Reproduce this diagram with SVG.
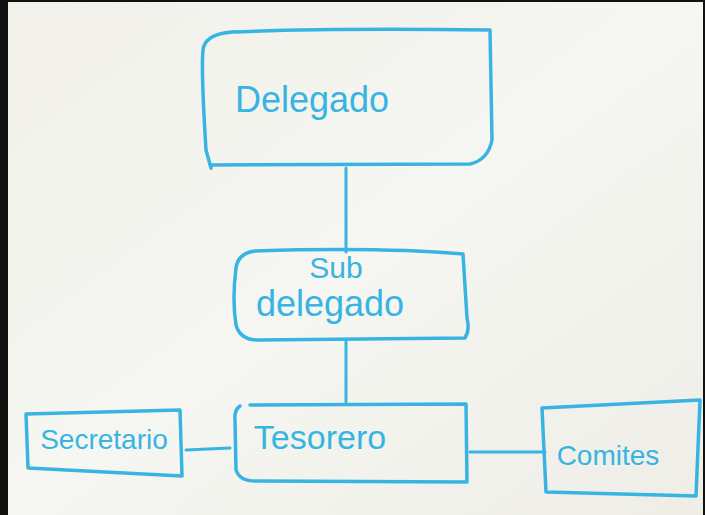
<svg xmlns="http://www.w3.org/2000/svg" width="705" height="515" viewBox="0 0 705 515">
<defs>
<style>
.box{fill:none;stroke:#38b4e2;stroke-width:3.5;stroke-linecap:round;stroke-linejoin:round}
.ln{fill:none;stroke:#38b4e2;stroke-width:3;stroke-linecap:round}
.t{font-family:"Liberation Sans","DejaVu Sans",sans-serif;fill:#38b4e2;text-anchor:middle}
</style>
<linearGradient id="paper" x1="0" y1="0" x2="1" y2="1">
<stop offset="0" stop-color="#f1f0ea"/>
<stop offset="0.5" stop-color="#f6f6f2"/>
<stop offset="1" stop-color="#eeede6"/>
</linearGradient>
</defs>
<rect x="0" y="0" width="705" height="515" fill="#111"/>
<rect x="8" y="2" width="695" height="513" fill="url(#paper)"/>
<g id="connectors">
<path class="ln" d="M346 168 L346 252"/>
<path class="ln" d="M346 340 L346 402"/>
<path class="ln" d="M186 450 L230 448"/>
<path class="ln" d="M470 452 L545 452"/>
</g>
<g id="delegado">
<path class="box" d="M211 168 L206 150 Q201 70 203 50 Q205 34 232 32 Q330 28 490 30 L492 140 Q488 160 470 164 L210 165"/>
<text class="t" x="312" y="112" font-size="36">Delegado</text>
</g>
<g id="subdelegado">
<path class="box" d="M255 251 Q238 253 236 268 Q232 300 236 325 Q240 340 258 340 L465 338 Q470 330 467 318 L463 254 Q380 247 255 251"/>
<text class="t" x="336" y="278" font-size="30">Sub</text>
<text class="t" x="330" y="316" font-size="36">delegado</text>
</g>
<g id="tesorero">
<path class="box" d="M240 406 Q234 410 235 420 L236 470 Q240 482 258 481 L467 482 L466 404 L250 405"/>
<text class="t" x="320" y="449" font-size="34">Tesorero</text>
</g>
<g id="secretario">
<path class="box" d="M26 414 L180 410 L182 476 L28 468 Z"/>
<text class="t" x="104" y="449" font-size="28">Secretario</text>
</g>
<g id="comites">
<path class="box" d="M542 408 L700 400 L696 496 L546 492 Z"/>
<text class="t" x="608" y="465" font-size="28">Comites</text>
</g>
</svg>
